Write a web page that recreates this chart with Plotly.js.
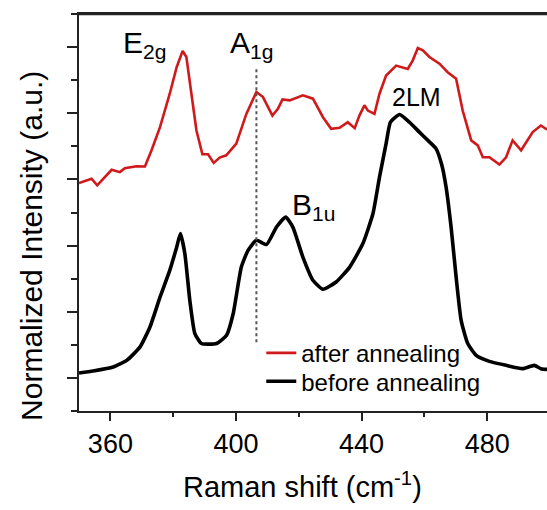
<!DOCTYPE html>
<html>
<head>
<meta charset="utf-8">
<script src="https://cdn.plot.ly/plotly-3.0.1.min.js"></script>
<style>
html, body { margin: 0; padding: 0; overflow: hidden; background: #fff; }
#chart { width: 552px; height: 510px; }
</style>
</head>
<body>
<div id="chart"></div>
<script>
// Raman shift (cm^-1) and normalized intensity (offset, a.u.)
const afterShift = [350, 354, 355.8, 360.4, 363, 364.6, 368.3, 371, 373.1, 375.8, 378.9, 381.1, 383, 384.2, 385.8, 387.4, 389.3, 391.1, 392.9, 394.8, 396.9, 400.1, 403.3, 406.5, 408.6, 411.6, 413.4, 414.8, 417.1, 419.2, 421.3, 424.5, 427.7, 430.3, 433, 435.6, 437.8, 439.3, 440.9, 442, 444.1, 445.7, 447.8, 451, 452.6, 454.7, 456.3, 457.9, 459.5, 461.6, 464.8, 467.4, 470.1, 472.2, 474.9, 477, 478.6, 480.7, 483.9, 486, 488.1, 490.8, 494.5, 497.1, 498.7, 500];
const afterIntensity = [6.89, 7.02, 6.82, 7.29, 7.22, 7.34, 7.40, 7.39, 7.88, 8.58, 9.59, 10.39, 10.88, 10.7, 9.59, 8.48, 7.76, 7.76, 7.50, 7.66, 7.73, 8.08, 8.98, 9.64, 9.49, 8.93, 9.14, 9.42, 9.39, 9.47, 9.54, 9.44, 8.88, 8.53, 8.56, 8.73, 8.55, 8.93, 9.24, 9.08, 8.98, 9.59, 10.14, 10.44, 10.39, 10.34, 10.6, 10.97, 10.9, 10.7, 10.5, 10.24, 10.04, 9.08, 8.18, 8.03, 7.67, 7.67, 7.45, 7.67, 8.18, 7.88, 8.43, 8.63, 8.53, 8.5];

const beforeShift = [350, 354.5, 360.9, 365.2, 369.4, 372.6, 375.8, 378.9, 381.1, 382.3, 383.7, 385.3, 386.9, 389, 393.8, 397, 399.1, 401.7, 403.8, 406.5, 409.7, 412.9, 415.8, 418.1, 421.3, 424.5, 427.7, 431.9, 436.2, 440.4, 443.6, 445.7, 447.8, 449.2, 452.1, 455.2, 458.4, 461.1, 463.7, 465.5, 466.9, 468.5, 470.1, 471.7, 473.8, 476.5, 480.7, 486, 491.3, 495, 497.1, 500];
const beforeIntensity = [1.15, 1.21, 1.33, 1.53, 1.93, 2.54, 3.44, 4.25, 4.95, 5.36, 4.76, 3.34, 2.34, 2.04, 2.04, 2.29, 2.94, 4.35, 4.85, 5.16, 5.03, 5.56, 5.86, 5.56, 4.65, 3.95, 3.68, 3.90, 4.35, 5.06, 5.96, 7.07, 8.08, 8.73, 8.96, 8.73, 8.43, 8.18, 7.93, 7.45, 6.77, 5.56, 4.05, 2.74, 2.04, 1.68, 1.50, 1.38, 1.28, 1.38, 1.28, 1.25];

// A1g reference position (dotted guide)
const guideShift = [406.5, 406.5];
const guideIntensity = [2.08, 10.39];

// Peak labels
const peakLabels = ['E<sub>2g</sub>', 'A<sub>1g</sub>', 'B<sub>1u</sub>', '2LM'];
const peakLabelShift = [363.3, 397.6, 417.3, 457.5];
const peakLabelIntensity = [11.07, 11.07, 6.18, 9.5];
const peakLabelAnchor = ['left', 'left', 'left', 'center'];

const seriesNames = ['after annealing', 'before annealing'];
const xTickVals = [360, 400, 440, 480];

const FONT = 'Liberation Sans, Arial, Helvetica, sans-serif';

const traces = [
  {
    x: afterShift, y: afterIntensity, name: seriesNames[0], legend: 'legend',
    type: 'scatter', mode: 'lines',
    line: { color: '#d0191b', width: 2.6 }
  },
  {
    x: beforeShift, y: beforeIntensity, name: seriesNames[1], legend: 'legend2',
    type: 'scatter', mode: 'lines',
    line: { color: '#000000', width: 3.6, shape: 'spline', smoothing: 0.5 }
  },
  {
    x: guideShift, y: guideIntensity, showlegend: false, hoverinfo: 'skip',
    type: 'scatter', mode: 'lines',
    line: { color: '#555555', width: 2, dash: 'dot' }
  }
];

const annotations = peakLabels.map((t, i) => ({
  text: t, x: peakLabelShift[i], y: peakLabelIntensity[i],
  xref: 'x', yref: 'y', xanchor: peakLabelAnchor[i], yanchor: 'middle',
  showarrow: false,
  font: { family: FONT, size: i === 3 ? 25 : 30, color: '#000' }
}));

const axisCommon = {
  showline: true, linecolor: '#222', linewidth: 2,
  tickcolor: '#222', tickwidth: 2, showgrid: false, zeroline: false
};

const legendCommon = {
  xanchor: 'left', yanchor: 'middle',
  bgcolor: 'rgba(0,0,0,0)', font: { family: FONT, size: 24, color: '#000' }
};

const layout = {
  width: 552, height: 510,
  margin: { l: 79, r: 2, t: 14, b: 99 },
  paper_bgcolor: '#fff', plot_bgcolor: '#fff',
  font: { family: FONT, color: '#000' },
  showlegend: true,
  legend: Object.assign({}, legendCommon, { x: 0.387, y: 0.1453 }),
  legend2: Object.assign({}, legendCommon, { x: 0.387, y: 0.0738 }),
  xaxis: Object.assign({}, axisCommon, {
    mirror: true,
    range: [350, 500], tickmode: 'array', tickvals: xTickVals,
    ticks: 'outside', ticklen: 8,
    minor: { ticks: 'outside', ticklen: 4, dtick: 20, tick0: 0, tickcolor: '#222', tickwidth: 2 },
    tickfont: { family: FONT, size: 27, color: '#000' },
    ticklabelstandoff: 0,
    title: { text: 'Raman shift (cm<sup>-1</sup>)&nbsp;&nbsp;&nbsp;', font: { family: FONT, size: 29, color: '#000' }, standoff: 18 }
  }),
  yaxis: Object.assign({}, axisCommon, {
    mirror: true,
    range: [0, 12], tick0: 1, dtick: 2,
    ticks: 'outside', ticklen: 10, showticklabels: false,
    minor: { ticks: 'outside', ticklen: 6, dtick: 1, tick0: 0, tickcolor: '#222', tickwidth: 2 },
    title: { text: 'Normalized Intensity (a.u.)&nbsp;&nbsp;&nbsp;&nbsp;&nbsp;&nbsp;&nbsp;&nbsp;', font: { family: FONT, size: 30, color: '#000' }, standoff: 16 }
  }),
  xaxis2: Object.assign({}, axisCommon, {
    overlaying: 'x', side: 'top', anchor: 'y',
    range: [350, 500], tickmode: 'array', tickvals: xTickVals,
    ticks: 'inside', ticklen: 8, showticklabels: false,
    minor: { ticks: 'inside', ticklen: 5, dtick: 20, tick0: 0, tickcolor: '#222', tickwidth: 2 }
  }),
  yaxis2: Object.assign({}, axisCommon, {
    overlaying: 'y', side: 'right', anchor: 'x',
    range: [0, 12], tick0: 1, dtick: 2,
    ticks: 'inside', ticklen: 8, showticklabels: false,
    minor: { ticks: 'inside', ticklen: 5, dtick: 1, tick0: 0, tickcolor: '#222', tickwidth: 2 }
  }),
  shapes: [{
    type: 'line', xref: 'paper', yref: 'paper', x0: 0, x1: 1, y0: 1, y1: 1,
    line: { color: '#222222', width: 2.5 }, layer: 'above'
  }],
  annotations: annotations
};

Plotly.newPlot('chart', traces, layout, { displayModeBar: false, staticPlot: true });
</script>
</body>
</html>
